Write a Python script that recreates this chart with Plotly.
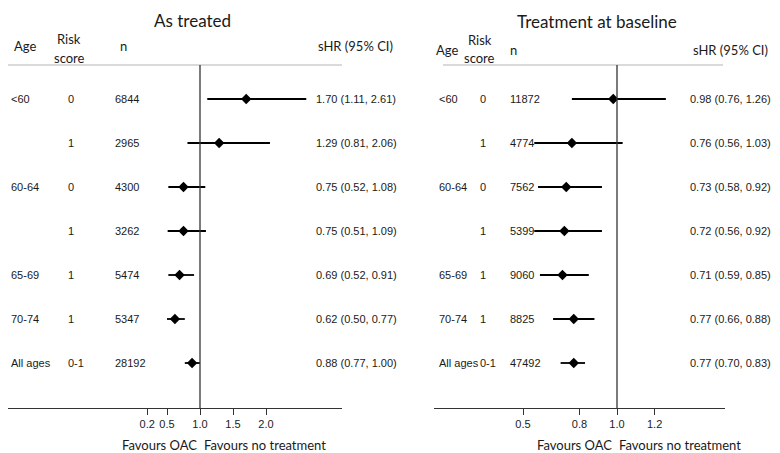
"""
Forest plots: sHR by age group and risk score (as treated vs treatment at baseline)
"""

import plotly.graph_objects as go

# the page body has an 8px margin, so the figure starts at (8, 8) in the window
OFF = 8
W, H = 780 - OFF, 453 - OFF

# ---- data ----
ages = ["<60", "", "60-64", "", "65-69", "70-74", "All ages"]
risk_left = ["0", "1", "0", "1", "1", "1", "0-1"]
n_left = [6844, 2965, 4300, 3262, 5474, 5347, 28192]
hr_left = [1.70, 1.29, 0.75, 0.75, 0.69, 0.62, 0.88]
lo_left = [1.11, 0.81, 0.52, 0.51, 0.52, 0.50, 0.77]
hi_left = [2.61, 2.06, 1.08, 1.09, 0.91, 0.77, 1.00]

risk_right = ["0", "1", "0", "1", "1", "1", "0-1"]
n_right = [11872, 4774, 7562, 5399, 9060, 8825, 47492]
hr_right = [0.98, 0.76, 0.73, 0.72, 0.71, 0.77, 0.77]
lo_right = [0.76, 0.56, 0.58, 0.56, 0.59, 0.66, 0.70]
hi_right = [1.26, 1.03, 0.92, 0.92, 0.85, 0.88, 0.83]

ticks_left = [0.2, 0.5, 1.0, 1.5, 2.0]
ticks_right = [0.5, 0.8, 1.0, 1.2]

HEAD_FONT = "Lato, 'Open Sans', sans-serif"
DATA_FONT = "Liberation Sans, Arial, sans-serif"


def px(x):
    # window pixel -> paper fraction
    return (x - OFF) / W


def py(y):
    return 1 - (y - OFF) / H


rows = list(range(len(ages)))
fig = go.Figure()


def add_forest(xa, ya, hr, lo, hi):
    fig.add_trace(go.Scatter(
        x=hr, y=rows, xaxis=xa, yaxis=ya, mode="markers",
        marker=dict(symbol="diamond", size=8, color="black"),
        error_x=dict(type="data", symmetric=False,
                     array=[h - e for h, e in zip(hi, hr)],
                     arrayminus=[e - l for e, l in zip(hr, lo)],
                     width=0, thickness=1.8, color="black"),
        showlegend=False, hoverinfo="skip",
    ))


add_forest("x", "y", hr_left, lo_left, hi_left)
add_forest("x2", "y2", hr_right, lo_right, hi_right)

ann = []


def txt(x, y, s, size=11, font=DATA_FONT, xanchor="left", yref="y"):
    ann.append(dict(x=px(x), y=y, xref="paper", yref=yref, text=s,
                    showarrow=False, xanchor=xanchor, yanchor="middle",
                    font=dict(family=font, size=size, color="#1a1a1a")))


# row text
for i in rows:
    txt(9, i, ages[i])
    txt(66, i, risk_left[i])
    txt(113, i, str(n_left[i]))
    txt(314, i, f"{hr_left[i]:.2f} ({lo_left[i]:.2f}, {hi_left[i]:.2f})")

    txt(437, i, ages[i], yref="y2")
    txt(478, i, risk_right[i], yref="y2")
    txt(508, i, str(n_right[i]), yref="y2")
    txt(688, i, f"{hr_right[i]:.2f} ({lo_right[i]:.2f}, {hi_right[i]:.2f})", yref="y2")

# headers
txt(192, py(20), "As treated", size=17, font=HEAD_FONT, xanchor="center", yref="paper")
txt(597, py(22), "Treatment at baseline", size=17, font=HEAD_FONT, xanchor="center", yref="paper")

txt(12, py(46), "Age", size=13, font=HEAD_FONT, yref="paper")
txt(69, py(39), "Risk", size=13, font=HEAD_FONT, xanchor="center", yref="paper")
txt(69, py(58), "score", size=13, font=HEAD_FONT, xanchor="center", yref="paper")
txt(123, py(46), "n", size=13, font=HEAD_FONT, xanchor="center", yref="paper")
txt(316, py(46), "sHR (95% CI)", size=13, font=HEAD_FONT, yref="paper")

txt(434, py(50), "Age", size=13, font=HEAD_FONT, yref="paper")
txt(480, py(40), "Risk", size=13, font=HEAD_FONT, xanchor="center", yref="paper")
txt(480, py(58), "score", size=13, font=HEAD_FONT, xanchor="center", yref="paper")
txt(513, py(50), "n", size=13, font=HEAD_FONT, xanchor="center", yref="paper")
txt(691, py(50), "sHR (95% CI)", size=13, font=HEAD_FONT, yref="paper")

# favours labels
txt(159, py(445), "Favours OAC", size=13, font=HEAD_FONT, xanchor="center", yref="paper")
txt(265, py(445), "Favours no treatment", size=13, font=HEAD_FONT, xanchor="center", yref="paper")
txt(574, py(445), "Favours OAC", size=13, font=HEAD_FONT, xanchor="center", yref="paper")
txt(680, py(445), "Favours no treatment", size=13, font=HEAD_FONT, xanchor="center", yref="paper")

shapes = [
    # header rules
    dict(type="line", xref="paper", yref="paper", x0=px(8), x1=px(342),
         y0=py(65), y1=py(65), line=dict(color="#b5b5b5", width=1)),
    dict(type="line", xref="paper", yref="paper", x0=px(443), x1=px(723),
         y0=py(65), y1=py(65), line=dict(color="#b5b5b5", width=1)),
    # null lines
    dict(type="line", xref="x", yref="paper", x0=1, x1=1,
         y0=py(408), y1=py(65), line=dict(color="#333", width=1.3)),
    dict(type="line", xref="x2", yref="paper", x0=1, x1=1,
         y0=py(408), y1=py(65), line=dict(color="#333", width=1.3)),
]

ydom = [py(408), py(65)]
yrange = [(408 - 99) / 44, (65 - 99) / 44]

axis_common = dict(
    showgrid=False, zeroline=False, showline=True, linecolor="#333",
    linewidth=1.3, ticks="outside", ticklen=6, tickwidth=1.3, tickcolor="#333",
    tickfont=dict(family=DATA_FONT, size=11, color="#222"),
)

fig.update_layout(
    width=W, height=H,
    margin=dict(l=0, r=0, t=0, b=0),
    paper_bgcolor="white", plot_bgcolor="white",
    xaxis=dict(domain=[px(8), px(342)], range=[(8 - 200) / 66 + 1, (342 - 200) / 66 + 1],
               tickvals=ticks_left, ticktext=[f"{t:.1f}" for t in ticks_left],
               anchor="y", **axis_common),
    xaxis2=dict(domain=[px(434), px(725)], range=[(434 - 617) / 188 + 1, (725 - 617) / 188 + 1],
                tickvals=ticks_right, ticktext=[f"{t:.1f}" for t in ticks_right],
                anchor="y2", **axis_common),
    yaxis=dict(domain=ydom, range=yrange, visible=False, anchor="x"),
    yaxis2=dict(domain=ydom, range=yrange, visible=False, anchor="x2"),
    annotations=ann,
    shapes=shapes,
)

fig.write_html("out.html")
